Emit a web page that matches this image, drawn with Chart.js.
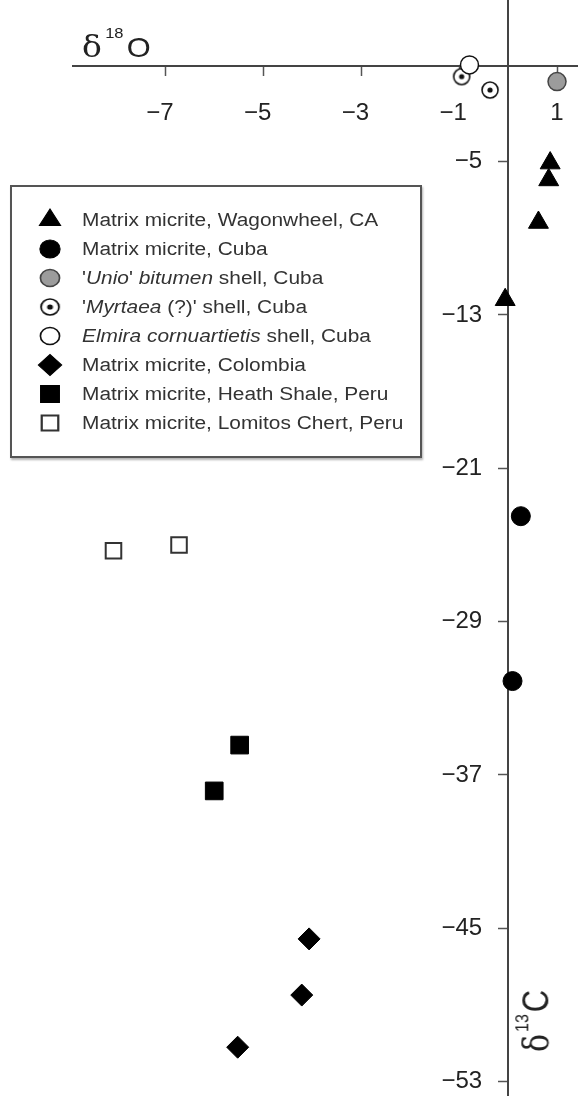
<!DOCTYPE html>
<html>
<head>
<meta charset="utf-8">
<script src="https://cdn.jsdelivr.net/npm/chart.js@4.4.1/dist/chart.umd.min.js"></script>
<style>
  html, body { margin: 0; padding: 0; background: #fff; }
  #wrap { position: relative; width: 578px; height: 1096px; overflow: hidden; font-family: "Liberation Sans", Arial, sans-serif; color: #222; }
  #chart { position: absolute; left: 0; top: 0; }
  .axt { position: absolute; white-space: nowrap; transform-origin: 0 0; }
  .axt .d { font-family: "DejaVu Serif", serif; font-size: 30px; }
  .axt sup { vertical-align: baseline; position: relative; line-height: 0; }
  #xTitle { left: 82px; top: 32px; font-size: 28px; line-height: 30px; transform: scaleX(1.1); }
  #xTitle sup { font-size: 15px; top: -19px; margin: 0 3px 0 3px; }
  #yTitle { left: 517px; top: 1052px; font-size: 31px; line-height: 34px; transform: rotate(-90deg) scaleY(1.17); }
  #yTitle sup { font-size: 16px; top: -17px; margin: 0 2px 0 2px; }
  #legend { position: absolute; left: 10px; top: 185px; width: 412px; height: 273px; box-sizing: border-box;
            border: 2px solid #555; box-shadow: 1px 2px 2px rgba(0,0,0,0.3); background: #fff; }
  .row { position: absolute; left: 0; right: 0; height: 28px; }
  .row canvas { position: absolute; left: 22px; top: 0; }
  .row span { position: absolute; left: 70px; top: 0; line-height: 28px; font-size: 18px; color: #333;
              white-space: nowrap; transform: scaleX(1.16); transform-origin: 0 50%; }
</style>
</head>
<body>
<div id="wrap">
  <canvas id="chart" width="578" height="1096"></canvas>
  <div id="xTitle" class="axt"><span class="d">δ</span><sup>18</sup>O</div>
  <div id="yTitle" class="axt"><span class="d">δ</span><sup>13</sup>C</div>
  <div id="legend"></div>
</div>
<script>
// series names (plain) and legend text (with the italics of the figure)
const seriesNames = [
  'Matrix micrite, Wagonwheel, CA',
  'Matrix micrite, Cuba',
  "'Unio' bitumen shell, Cuba",
  "'Myrtaea (?)' shell, Cuba",
  'Elmira cornuartietis shell, Cuba',
  'Matrix micrite, Colombia',
  'Matrix micrite, Heath Shale, Peru',
  'Matrix micrite, Lomitos Chert, Peru'
];
const legendText = [
  'Matrix micrite, Wagonwheel, CA',
  'Matrix micrite, Cuba',
  "'<i>Unio</i>' <i>bitumen</i> shell, Cuba",
  "'<i>Myrtaea</i> (?)' shell, Cuba",
  '<i>Elmira cornuartietis</i> shell, Cuba',
  'Matrix micrite, Colombia',
  'Matrix micrite, Heath Shale, Peru',
  'Matrix micrite, Lomitos Chert, Peru'
];

// d18O (x) and d13C (y) values
const wagonO = [0.86, 0.83, 0.62, -0.06];
const wagonC = [-5.08, -5.96, -8.18, -12.21];
const cubaO = [0.26, 0.09];
const cubaC = [-23.5, -32.1];
const unioO = [1.0];
const unioC = [-0.83];
const myrtaeaO = [-0.95, -0.37];
const myrtaeaC = [-0.57, -1.27];
const elmiraO = [-0.79];
const elmiraC = [0.04];
const colombiaO = [-4.07, -4.22, -5.53];
const colombiaC = [-45.55, -48.48, -51.2];
const heathO = [-5.49, -6.01];
const heathC = [-35.44, -37.83];
const lomitosO = [-8.07, -6.73];
const lomitosC = [-25.3, -25.0];

const xTicks = [-7, -5, -3, -1, 1];
const yTicks = [-5, -13, -21, -29, -37, -45, -53];

const pts = (xs, ys) => xs.map((x, i) => ({ x: x, y: ys[i] }));
const fmt = v => (v < 0 ? '\u2212' + Math.abs(v) : String(v));

// circle with a dot in the middle for the Myrtaea shells
const dotCircle = document.createElement('canvas');
dotCircle.width = 20; dotCircle.height = 20;
(function () {
  const c = dotCircle.getContext('2d');
  c.beginPath(); c.arc(10, 10, 8, 0, Math.PI * 2);
  c.fillStyle = '#fff'; c.fill();
  c.lineWidth = 1.6; c.strokeStyle = '#111'; c.stroke();
  c.beginPath(); c.arc(10, 10, 2.6, 0, Math.PI * 2);
  c.fillStyle = '#111'; c.fill();
})();

const htmlLegend = {
  id: 'htmlLegend',
  afterUpdate(chart) {
    const box = document.getElementById('legend');
    box.innerHTML = '';
    chart.data.datasets.forEach((ds, i) => {
      const row = document.createElement('div');
      row.className = 'row';
      row.style.top = (19 + i * 29) + 'px';
      const cv = document.createElement('canvas');
      cv.width = 32; cv.height = 28;
      const ctx = cv.getContext('2d');
      ctx.translate(16, 14);
      ctx.scale(1.12, 1);
      ctx.fillStyle = ds.backgroundColor;
      ctx.strokeStyle = ds.borderColor;
      ctx.lineWidth = ds.borderWidth;
      Chart.helpers.drawPoint(ctx, {
        pointStyle: ds.pointStyle, rotation: 0,
        radius: ds.pointRadius * 0.95, borderWidth: ds.borderWidth
      }, 0, 0);
      const txt = document.createElement('span');
      txt.innerHTML = legendText[i];
      row.appendChild(cv);
      row.appendChild(txt);
      box.appendChild(row);
    });
  }
};

const ds = (i, data, style, radius, fill, border, bw) => ({
  label: seriesNames[i], data: data, pointStyle: style, pointRadius: radius,
  backgroundColor: fill, borderColor: border, borderWidth: bw, showLine: false
});

const datasets = [
  ds(0, pts(wagonO, wagonC), 'triangle', 11.5, '#000', '#000', 1),
  ds(1, pts(cubaO, cubaC), 'circle', 9.5, '#000', '#000', 1),
  ds(2, pts(unioO, unioC), 'circle', 9, '#9c9c9c', '#444', 1.5),
  ds(3, pts(myrtaeaO, myrtaeaC), dotCircle, 10, '#fff', '#111', 1.6),
  ds(4, pts(elmiraO, elmiraC), 'circle', 9, '#fff', '#111', 1.5),
  ds(5, pts(colombiaO, colombiaC), 'rectRot', 11, '#000', '#000', 1),
  ds(6, pts(heathO, heathC), 'rect', 12.5, '#000', '#000', 1),
  ds(7, pts(lomitosO, lomitosC), 'rect', 11, '#fff', '#333', 2)
];
datasets[4].order = -1; // open Elmira circle sits on top

const tickFont = { family: 'Liberation Sans', size: 24 };

// the axes cross inside the plot, so they must not push the plot area in
const noPad = s => { s.paddingTop = 0; s.paddingBottom = 0; s.paddingLeft = 0; s.paddingRight = 0; };

new Chart(document.getElementById('chart'), {
  type: 'scatter',
  data: { datasets: datasets },
  options: {
    responsive: false,
    animation: false,
    layout: { padding: { left: 73, top: 0, right: 0, bottom: 0 }, autoPadding: false },
    plugins: { legend: { display: false }, tooltip: { enabled: false } },
    scales: {
      x: {
        type: 'linear',
        position: { y: 0 },
        min: -8.898,
        max: 1.429,
        afterBuildTicks: s => { s.ticks = xTicks.map(v => ({ value: v })); },
        afterFit: noPad,
        grid: { drawOnChartArea: false, drawTicks: true, tickLength: 9, tickColor: '#555', tickWidth: 1.5 },
        border: { display: true, color: '#444', width: 2 },
        ticks: {
          autoSkip: false, maxRotation: 0, padding: 24, color: '#222', font: tickFont,
          callback: v => fmt(v) + (v < 0 ? '\u2002' : '')
        }
      },
      y: {
        type: 'linear',
        position: { x: 0 },
        min: -53.745,
        max: 3.427,
        afterBuildTicks: s => { s.ticks = yTicks.map(v => ({ value: v })); },
        afterFit: noPad,
        grid: { drawOnChartArea: false, drawTicks: true, tickLength: 9, tickColor: '#555', tickWidth: 1.5 },
        border: { display: true, color: '#444', width: 2 },
        ticks: {
          autoSkip: false, color: '#222', font: tickFont,
          // labels sit clear of the tick marks, as in the figure
          callback: v => fmt(v) + '\u2003\u200a'
        }
      }
    }
  },
  plugins: [htmlLegend]
});
</script>
</body>
</html>
